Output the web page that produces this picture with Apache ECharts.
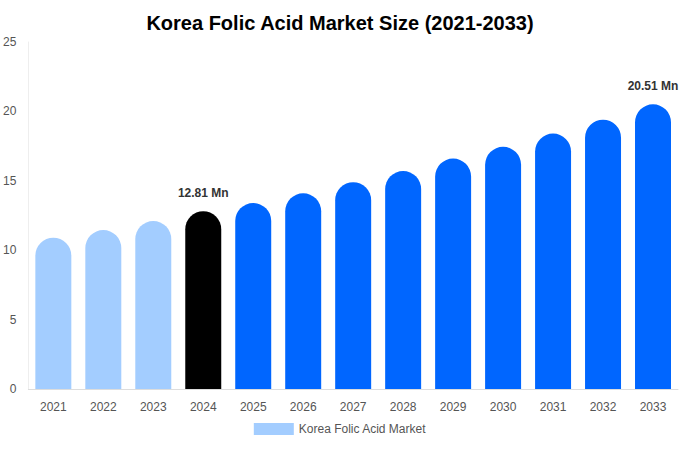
<!DOCTYPE html>
<html>
<head>
<meta charset="utf-8">
<script src="https://cdn.jsdelivr.net/npm/echarts@6/dist/echarts.min.js"></script>
<style>html,body{margin:0;padding:0;background:#fff}#chart{width:680px;height:450px}</style>
</head>
<body>
<div id="chart"></div>
<script>
// data
const years = ['2021', '2022', '2023', '2024', '2025', '2026', '2027', '2028', '2029', '2030', '2031', '2032', '2033'];
const values = [10.9, 11.45, 12.1, 12.81, 13.4, 14.1, 14.9, 15.7, 16.6, 17.45, 18.4, 19.4, 20.51];
const labelled = { 3: '12.81 Mn', 12: '20.51 Mn' };

const colorFor = (i) => (i < 3 ? '#a3cdff' : i === 3 ? '#000000' : '#0066ff');

const chart = echarts.init(document.getElementById('chart'), null, { renderer: 'svg' });
chart.setOption({
  title: {
    text: 'Korea Folic Acid Market Size (2021-2033)',
    left: 'center',
    top: 8,
    textStyle: { fontFamily: 'Liberation Sans', fontSize: 20, fontWeight: 'bold', color: '#000' }
  },
  legend: {
    bottom: 10,
    itemWidth: 40,
    itemHeight: 12,
    icon: 'rect',
    textStyle: { fontFamily: 'Liberation Sans', fontSize: 12, color: '#555' },
    data: [{ name: 'Korea Folic Acid Market', itemStyle: { color: '#a3cdff' } }]
  },
  grid: { left: 28, right: 2, top: 42, bottom: 61 },
  xAxis: {
    type: 'category',
    data: years,
    axisTick: { show: false },
    axisLine: { lineStyle: { color: '#ddd' } },
    axisLabel: { fontFamily: 'Liberation Sans', fontSize: 12, color: '#555', margin: 12 }
  },
  yAxis: {
    type: 'value',
    min: 0,
    max: 25,
    interval: 5,
    splitLine: { show: false },
    axisLine: { show: true, lineStyle: { color: '#eee' } },
    axisLabel: { fontFamily: 'Liberation Sans', fontSize: 12, color: '#555', margin: 12 }
  },
  series: [{
    name: 'Korea Folic Acid Market',
    type: 'bar',
    barWidth: '72%',
    data: values.map((v, i) => ({
      value: v,
      itemStyle: { color: colorFor(i), borderRadius: [18, 18, 0, 0] },
      label: labelled[i] ? {
        show: true, position: 'top', distance: 12, formatter: labelled[i],
        fontFamily: 'Liberation Sans', fontSize: 12, fontWeight: 'bold', color: '#333'
      } : { show: false }
    }))
  }]
});
</script>
</body>
</html>
